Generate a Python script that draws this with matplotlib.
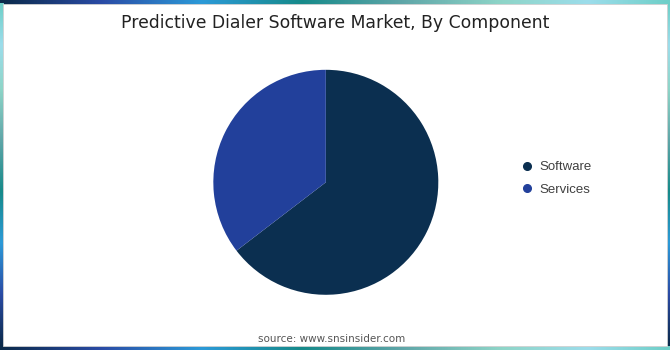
import numpy as np
import matplotlib
matplotlib.use("Agg")
import matplotlib.pyplot as plt
from matplotlib.colors import LinearSegmentedColormap
from matplotlib.patches import Rectangle
from matplotlib.lines import Line2D

# data
components = ["Software", "Services"]
shares = [64.6, 35.4]
colors = ["#0B2F50", "#22409B"]

title = "Predictive Dialer Software Market, By Component"
source = "source: www.snsinsider.com"

W, H = 670, 350
fig = plt.figure(figsize=(W / 100, H / 100), dpi=100)

# gradient frame drawn in pixel coordinates
frame = LinearSegmentedColormap.from_list("frame", [
    (0.00, "#0B2A4A"), (0.15, "#2A4BA5"), (0.30, "#2C9AD8"), (0.45, "#168A8A"),
    (0.60, "#5FA6A8"), (0.75, "#8ED5C8"), (0.88, "#9CDDEB"), (1.00, "#6ECFC8")])
bg = fig.add_axes([0, 0, 1, 1])
bg.set_xlim(0, W)
bg.set_ylim(H, 0)
bg.axis("off")
grad = np.linspace(0, 1, 256)
bg.imshow(grad[None, :], cmap=frame, extent=(0, W, H, 0), aspect="auto")
bg.imshow(grad[::-1, None], cmap=frame, extent=(0, 3.3, 346, 3.5), aspect="auto")
bg.imshow(grad[::-1, None], cmap=frame, extent=(666.7, W, 346, 3.5), aspect="auto")
bg.add_patch(Rectangle((3.3, 3.5), 663.4, 342.3, facecolor="white",
                       edgecolor="#d0d0d0", linewidth=0.6))

fig.text(0.5, 1 - 23 / H, title, ha="center", va="center",
         fontsize=12.4, color="#222222", family="DejaVu Sans")
fig.text(0.495, 1 - 339 / H, source, ha="center", va="center",
         fontsize=7.5, color="#555555", family="DejaVu Sans")

ax = fig.add_axes([0.3184, 0.1577, 0.3358, 0.6429])
ax.pie(shares, colors=colors, startangle=90, counterclock=False,
       wedgeprops=dict(linewidth=0))
ax.set_xlim(-1, 1)
ax.set_ylim(-1, 1)

handles = [Line2D([], [], linestyle="none", marker="o", markersize=5.5,
                  markerfacecolor=c, markeredgecolor=c) for c in colors]
fig.legend(handles, components, loc="center left",
           bbox_to_anchor=(520.5 / W, 1 - 178.5 / H), frameon=False,
           borderpad=0, borderaxespad=0, handlelength=1.0, handletextpad=0.42,
           labelspacing=0.8, prop={"family": "Liberation Sans", "size": 9.5},
           labelcolor="#404040")

fig.savefig("out.png", dpi=100)
